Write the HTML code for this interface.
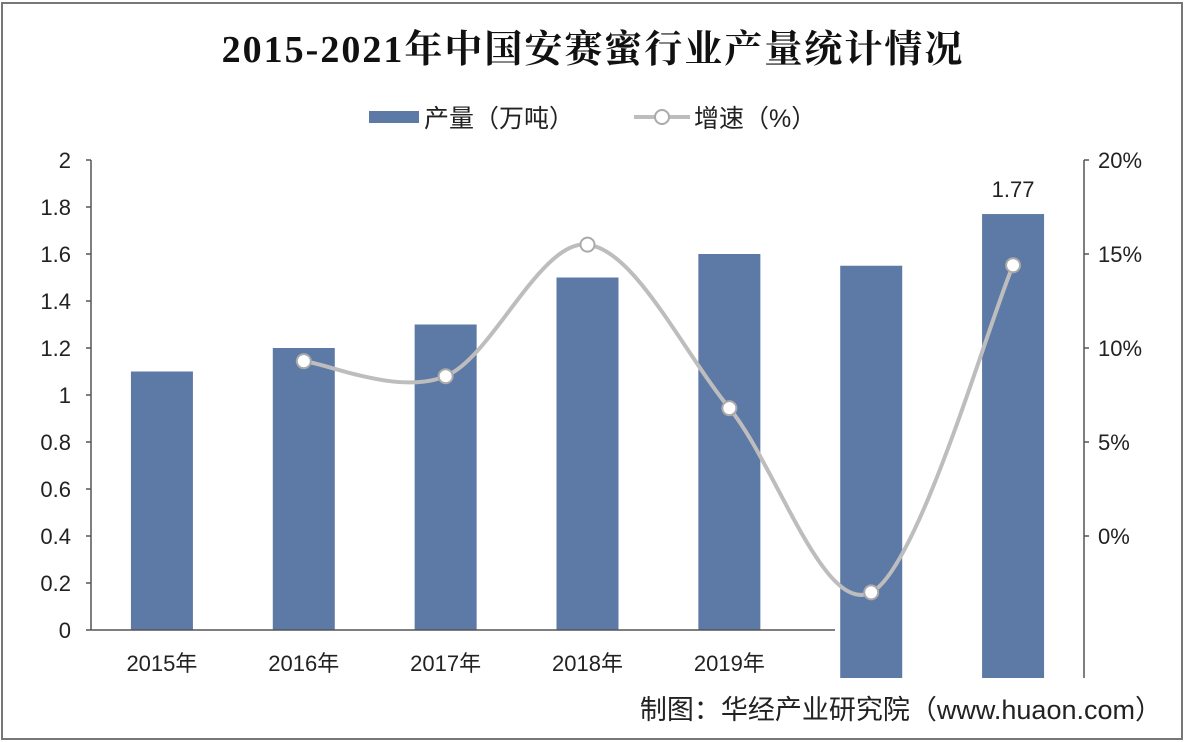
<!DOCTYPE html>
<html><head><meta charset="utf-8"><style>
html,body{margin:0;padding:0;background:#fff;}
svg{display:block;font-family:"Liberation Sans","Noto Sans CJK SC",sans-serif;}
</style></head><body>
<svg id="chart" width="1186" height="742" viewBox="0 0 1186 742">
<rect x="2" y="3" width="1180" height="736" fill="#fff" stroke="#777" stroke-width="2"/>
<text x="593" y="62" text-anchor="middle" font-family="'Liberation Serif','Noto Serif CJK SC',serif" font-weight="bold" font-size="38" letter-spacing="2" fill="#111">2015-2021年中国安赛蜜行业产量统计情况</text>
<g>
<rect x="369" y="111" width="50" height="12" fill="#5d79a5"/>
<text x="424" y="127" font-size="25" fill="#222">产量（万吨）</text>
<line x1="634" y1="117" x2="690" y2="117" stroke="#bdbdbd" stroke-width="4"/>
<circle cx="662" cy="117" r="7" fill="#fff" stroke="#aaa" stroke-width="2"/>
<text x="694" y="127" font-size="25" fill="#222">增速（%）</text>
</g>
<g id="plot"></g>
<text x="1162" y="719" text-anchor="end" font-size="27" fill="#222">制图：华经产业研究院（www.huaon.com）</text>
</svg>
<script>
const categories=["2015年","2016年","2017年","2018年","2019年","2020年","2021年"];
const production=[1.1,1.2,1.3,1.5,1.6,1.55,1.77];
const growth=[null,9.3,8.5,15.5,6.8,-3.0,14.4];
const leftTicks=[0,0.2,0.4,0.6,0.8,1,1.2,1.4,1.6,1.8,2];
const rightTicks=[0,5,10,15,20];
const labeled=[6];

const NS="http://www.w3.org/2000/svg";
const g=document.getElementById('plot');
const X0=91,X1=1084,Y0=630,YT=160;
const band=(X1-X0)/categories.length;
const xc=i=>X0+band*(i+0.5);
const yL=v=>Y0-(v/2)*(Y0-YT);
const yR=v=>536-(v/5)*94;
function mk(t,a){const e=document.createElementNS(NS,t);for(const k in a)e.setAttribute(k,a[k]);g.appendChild(e);return e;}

leftTicks.forEach((t,i)=>{
 const y=yL(t);
 const tk=mk('line',{x1:X0-5,y1:y,x2:X0,y2:y,stroke:'#555','stroke-width':1.5});
 
 
 const tx=mk('text',{x:X0-20,y:y+8,'text-anchor':'end','font-size':22,fill:'#222'});
 tx.textContent=String(t);
 
 
});
rightTicks.forEach(t=>{
 const y=yR(t);
 const tk=mk('line',{x1:X1,y1:y,x2:X1+5,y2:y,stroke:'#555','stroke-width':1.5});
 
 
 const tx=mk('text',{x:X1+14,y:y+8,'font-size':22,fill:'#222'});
 tx.textContent=t+'%';
 
 
});

production.forEach((v,i)=>{
 const w=62,y=yL(v);
 const ext=i>=5?48:0;
 const r=mk('rect',{x:xc(i)-w/2,y:y,width:w,height:Y0-y+ext,fill:'#5d79a5'});
 
 
 if(labeled.includes(i)){
  const t=mk('text',{x:xc(i),y:y-17,'text-anchor':'middle','font-size':22,fill:'#222'});
  t.textContent=v.toFixed(2);
  
  
 }
});

const la=mk('line',{x1:X0,y1:YT,x2:X0,y2:Y0,stroke:'#555','stroke-width':1.5});


const ra=mk('line',{x1:X1,y1:YT,x2:X1,y2:678,stroke:'#555','stroke-width':1.5});


const xa=mk('line',{x1:X0,y1:Y0,x2:835,y2:Y0,stroke:'#555','stroke-width':1.5});



categories.forEach((c,i)=>{
 if(i>=5)return;
 const t=mk('text',{x:xc(i),y:671,'text-anchor':'middle','font-size':22,fill:'#222'});
 t.textContent=c;
 
 
});

const pts=[];growth.forEach((v,i)=>{if(v!==null)pts.push([xc(i),yR(v)]);});
let d='M'+pts[0][0]+','+pts[0][1];
for(let i=0;i<pts.length-1;i++){
 const p0=pts[Math.max(0,i-1)],p1=pts[i],p2=pts[i+1],p3=pts[Math.min(pts.length-1,i+2)];
 const c1=[p1[0]+(p2[0]-p0[0])/6,p1[1]+(p2[1]-p0[1])/6];
 const c2=[p2[0]-(p3[0]-p1[0])/6,p2[1]-(p3[1]-p1[1])/6];
 d+=' C'+c1+' '+c2+' '+p2;
}
const path=mk('path',{d:d,fill:'none',stroke:'#bdbdbd','stroke-width':4});


pts.forEach(p=>{
 const c=mk('circle',{cx:p[0],cy:p[1],r:7,fill:'#fff',stroke:'#aaa','stroke-width':2});
 
 
});
</script>
</body></html>
